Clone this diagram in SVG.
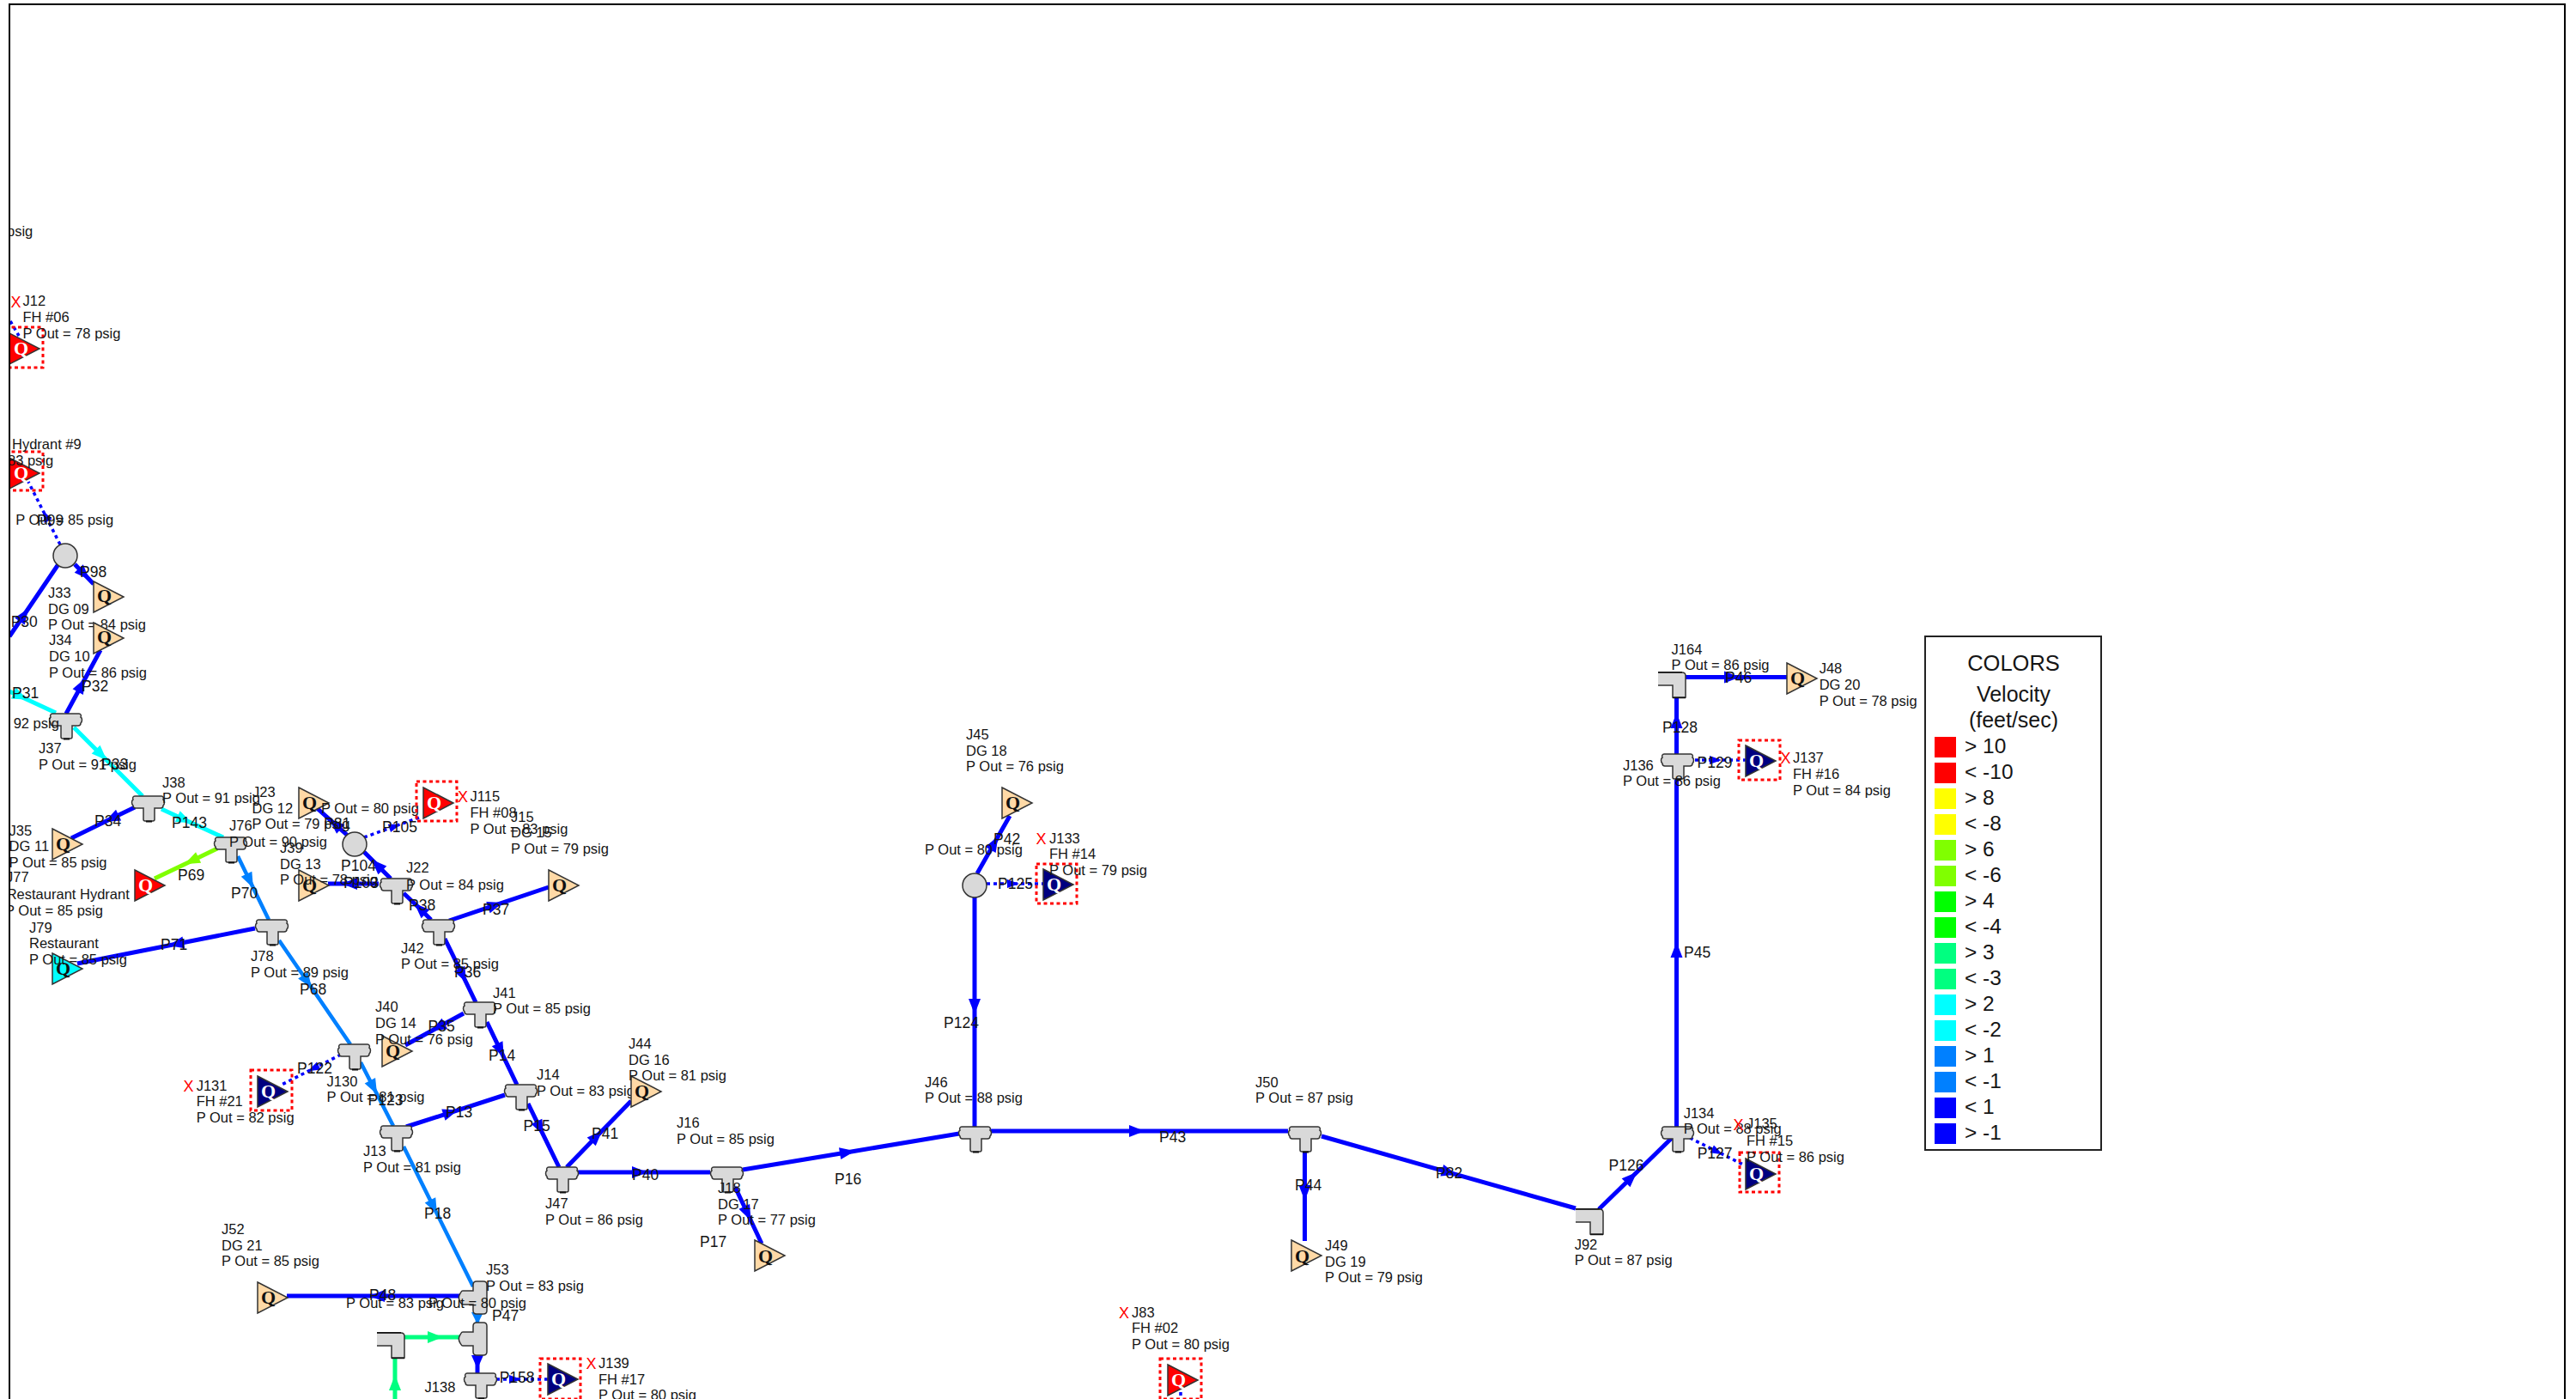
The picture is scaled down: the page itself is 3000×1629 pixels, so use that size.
<svg xmlns="http://www.w3.org/2000/svg" width="3000" height="1629" viewBox="0 0 3000 1629">
<style>
text{font-family:"Liberation Sans",Arial,sans-serif;font-size:16.5px;fill:#151515}
#pipe-labels text{font-size:17.5px}
.x{fill:#f00;font-size:18px}
.q{font-family:"Liberation Serif","Times New Roman",serif;font-weight:bold;font-size:22px;fill:#111}
.qw{font-family:"Liberation Serif","Times New Roman",serif;font-weight:bold;font-size:22px;fill:#fff}
.L{font-size:24.5px}
.H{font-size:25.5px;text-anchor:middle}
.V{font-size:25px;text-anchor:middle}
.p{fill:none;stroke-width:5}
.b{stroke:#00f;marker-mid:url(#mb)}
.a{stroke:#0080ff;stroke-width:4.5;marker-mid:url(#ma)}
.c{stroke:#0ff;marker-mid:url(#mc)}
.g{stroke:#80ff00;marker-mid:url(#mg)}
.s{stroke:#00ff80;marker-mid:url(#ms)}
.d{stroke:#00f;stroke-width:3.5;stroke-dasharray:4 4;marker-mid:url(#md)}
.fit{fill:#d9d9d9;stroke:#333;stroke-width:1.5}
.tan{fill:#ffd9a6}.red{fill:#f00}.nav{fill:#000080}.cy{fill:#0ff}
.tri{stroke:#333;stroke-width:1.5}
.sq{fill:none;stroke:#f00;stroke-width:3;stroke-dasharray:4 3.5}
</style>
<defs>
<clipPath id="clip"><rect x="12" y="0" width="2988" height="1629"/></clipPath>
<marker id="mb" markerUnits="userSpaceOnUse" markerWidth="20" markerHeight="16" viewBox="0 0 20 16" refX="10" refY="8" orient="auto"><path d="M1 1 19 8 1 15Z" fill="#00f"/></marker>
<marker id="ma" markerUnits="userSpaceOnUse" markerWidth="20" markerHeight="16" viewBox="0 0 20 16" refX="10" refY="8" orient="auto"><path d="M1 1 19 8 1 15Z" fill="#0080ff"/></marker>
<marker id="mc" markerUnits="userSpaceOnUse" markerWidth="20" markerHeight="16" viewBox="0 0 20 16" refX="10" refY="8" orient="auto"><path d="M1 1 19 8 1 15Z" fill="#0ff"/></marker>
<marker id="mg" markerUnits="userSpaceOnUse" markerWidth="20" markerHeight="16" viewBox="0 0 20 16" refX="10" refY="8" orient="auto"><path d="M1 1 19 8 1 15Z" fill="#80ff00"/></marker>
<marker id="ms" markerUnits="userSpaceOnUse" markerWidth="20" markerHeight="16" viewBox="0 0 20 16" refX="10" refY="8" orient="auto"><path d="M1 1 19 8 1 15Z" fill="#00ff80"/></marker>
<marker id="md" markerUnits="userSpaceOnUse" markerWidth="16" markerHeight="12" viewBox="0 0 16 12" refX="8" refY="6" orient="auto"><path d="M1 1 15 6 1 11Z" fill="#00f"/></marker>
<g id="T"><path class="fit" d="M4 0H35C37 0 38 2 37 4C39 5 39 9 37 11C37 13 36 14 34 14H27V27Q27 29 25 29H16Q14 29 14 27V14H5C3 14 2 13 2 11C0 9 0 5 2 4C1 2 2 0 4 0Z"/><path d="M17 29.5H24" stroke="#111" stroke-width="2"/></g>
<g id="TL"><path class="fit" d="M20 0H28Q32 0 32 4V34Q32 38 28 38H20Q16 38 16 34V27H4C2 27 2 25 1 24C-1 21 -1 17 1 14C2 13 2 11 4 11H16V4Q16 0 20 0Z"/></g>
<g id="E"><path class="fit" d="M0 1H28Q32 1 32 5V30H17V16H0"/><path d="M17 30.5H32M0 .8H28" stroke="#111" stroke-width="1.5" fill="none"/></g>
<polygon id="tri" points="0,0 35,18 0,36"/>
</defs>
<rect x="0" y="0" width="3000" height="1629" fill="#fff"/>
<g clip-path="url(#clip)">
<g id="connectors">
<path class="p d" d="M12 374L22 391"/>
<path id="P99" class="p d" d="M70 634L53 600.5L33 561"/>
<path id="P30" class="p b" d="M11 741L28 716L68 657"/>
<path id="P98" class="p b" d="M87 657L98 668.5L109 680"/>
<path id="P32" class="p b" d="M77 831L95 797.7L117 757"/>
<path id="P31" class="p c" d="M11 805L24 811L65 830"/>
<path id="P33" class="p c" d="M86 847L118 879L166 927"/>
<path id="P143" class="p c" d="M188 942L215 954.4L260 975"/>
<path id="P34" class="p b" d="M157 940L130 953.1L83 976"/>
<path id="P69" class="p g" d="M253 988L223 1002.4L180 1023"/>
<path id="P70" class="p a" d="M277 997L291 1025.8L313 1071"/>
<path id="P68" class="p a" d="M325 1095L358 1143L408 1216"/>
<path id="P71" class="p b" d="M297 1081L205 1099.2L90 1122"/>
<path id="P123" class="p a" d="M420 1237L435 1266.2L458 1311"/>
<path id="P122" class="p d" d="M397 1228L365 1244.2L328 1263"/>
<path id="P18" class="p a" d="M470 1335L505 1405.4L551 1498"/>
<path id="P13" class="p b" d="M473 1312L525 1295.3L588 1275"/>
<path id="P15" class="p b" d="M615 1285L629 1313.8L651 1359"/>
<path id="P14" class="p b" d="M567 1190L583 1223.4L602 1263"/>
<path id="P35" class="p b" d="M540 1180L510 1196.3L472 1217"/>
<path id="P36" class="p b" d="M518 1093L539 1136L554 1167"/>
<path id="P37" class="p b" d="M523 1072L577 1053.8L639 1033"/>
<path id="P38" class="p b" d="M502 1071L489 1058L470 1040"/>
<path id="P104" class="p b" d="M455 1023L439 1007L424 992"/>
<path id="P103" class="p b" d="M441 1029L407 1029L382 1029"/>
<path id="P81" class="p b" d="M405 973L390 959.6L368 940"/>
<path id="P105" class="p d" d="M424 975L460 962L491 951"/>
<path id="P41" class="p b" d="M660 1359L695 1323L735 1282"/>
<path id="P40" class="p b" d="M673 1365L745 1365L827 1365"/>
<path id="P16" class="p b" d="M865 1362L987 1341.7L1117 1320"/>
<path id="P17" class="p b" d="M856 1382L870.6 1413L887 1448"/>
<path id="P43" class="p b" d="M1154 1317L1324 1317L1500 1317"/>
<path id="P124" class="p b" d="M1135 1045L1135 1172L1135 1312"/>
<path id="P42" class="p b" d="M1138 1017L1158 981.7L1176 950"/>
<path id="P125" class="p d" d="M1149 1029L1180 1029L1215 1029"/>
<path id="P44" class="p b" d="M1519.5 1341L1519.5 1389L1519.5 1445"/>
<path id="P82" class="p b" d="M1539 1323L1688 1365.3L1835 1407"/>
<path id="P126" class="p b" d="M1862 1408L1900 1371L1947 1325"/>
<path id="P127" class="p d" d="M1968 1325L2000 1341L2030 1356"/>
<path id="P45" class="p b" d="M1952.5 1312L1952.5 1106L1952.5 908"/>
<path id="P128" class="p b" d="M1952.5 878L1952.5 839L1952.5 812"/>
<path id="P129" class="p d" d="M1974 885L1998 885L2033 885"/>
<path id="P46" class="p b" d="M1963 788.5L2017 788.5L2081 788.5"/>
<path id="P48" class="p b" d="M535 1509L439 1509L334 1509"/>
<path id="P47" class="p a" d="M556 1530L556 1540"/>
<polygon points="549,1528 563,1528 556,1542" fill="#0080ff"/>
<path class="p s" d="M471 1557L507 1557L535 1557"/>
<path class="p s" d="M460 1629L460 1610L460 1581"/>
<path class="p b" d="M556 1578L556 1599"/>
<polygon points="549,1578 563,1578 556,1594" fill="#00f"/>
<path id="P158" class="p d" d="M578 1606L600 1606L638 1606"/>
<path class="p d" d="M1375 1621L1375 1629"/>
</g>
<g id="J12"><rect class="sq" x="6" y="381" width="44" height="47"/><use href="#tri" class="tri red" x="11" y="388"/><text class="qw" x="16" y="413">Q</text><text class="x" x="12.5" y="358">X</text><text x="26.5" y="356">J12</text><text x="26.5" y="375">FH #06</text><text x="26.5" y="393.5">P Out = 78 psig</text></g>
<g id="J9"><rect class="sq" x="6" y="526" width="44" height="45"/><use href="#tri" class="tri red" x="11" y="533"/><text class="qw" x="16" y="558">Q</text><text x="14" y="522.5">Hydrant #9</text><text x="9" y="542">83 psig</text></g>
<g id="top-note"><text x="8" y="275">psig</text><text x="2" y="642.5">g</text></g>
<g id="J32"><circle class="fit" cx="76" cy="647" r="14"/><text x="18.3" y="610.5">P Out = 85 psig</text></g>
<g id="J33"><use href="#tri" class="tri tan" x="109" y="677"/><text class="q" x="113" y="701">Q</text><text x="56" y="695.5">J33</text><text x="56" y="714.5">DG 09</text><text x="56" y="733">P Out = 84 psig</text></g>
<g id="J34"><use href="#tri" class="tri tan" x="109" y="725"/><text class="q" x="113" y="749">Q</text><text x="57" y="751">J34</text><text x="57" y="770">DG 10</text><text x="57" y="789">P Out = 86 psig</text></g>
<g id="J37"><use href="#T" x="57" y="831"/><text x="15.7" y="847.7">92 psig</text><text x="45" y="877">J37</text><text x="45" y="895.7">P Out = 91 psig</text></g>
<g id="J38"><use href="#T" x="153" y="927"/><text x="189" y="916.7">J38</text><text x="189" y="935">P Out = 91 psig</text></g>
<g id="J76"><use href="#T" x="249" y="975"/><text x="267" y="966.7">J76</text><text x="267" y="986">P Out = 90 psig</text></g>
<g id="J78"><use href="#T" x="297" y="1071"/><text x="292" y="1119">J78</text><text x="292" y="1137.7">P Out = 89 psig</text></g>
<g id="J22"><use href="#T" x="442" y="1023"/><text x="473" y="1016">J22</text><text x="473" y="1035.5">P Out = 84 psig</text></g>
<g id="J42"><use href="#T" x="491" y="1071"/><text x="467" y="1110">J42</text><text x="467" y="1128">P Out = 85 psig</text></g>
<g id="J41"><use href="#T" x="539" y="1167"/><text x="574" y="1161.7">J41</text><text x="574" y="1180">P Out = 85 psig</text></g>
<g id="J130"><use href="#T" x="393" y="1216"/><text x="380.6" y="1265">J130</text><text x="380.6" y="1282.7">P Out = 81 psig</text></g>
<g id="J14"><use href="#T" x="587" y="1263"/><text x="625" y="1257">J14</text><text x="625" y="1276">P Out = 83 psig</text></g>
<g id="J13"><use href="#T" x="442" y="1311"/><text x="423" y="1345.7">J13</text><text x="423" y="1365">P Out = 81 psig</text></g>
<g id="J47"><use href="#T" x="635" y="1359"/><text x="635" y="1407">J47</text><text x="635" y="1426">P Out = 86 psig</text></g>
<g id="J16"><use href="#T" x="827" y="1359"/><text x="788" y="1313">J16</text><text x="788" y="1331.7">P Out = 85 psig</text></g>
<g id="J53"><use href="#TL" x="535" y="1492"/><text x="566" y="1484">J53</text><text x="566" y="1503">P Out = 83 psig</text><text x="499" y="1523">P Out = 80 psig</text></g>
<g id="J-tee"><use href="#TL" x="535" y="1540"/></g>
<g id="J-elbow"><use href="#E" x="439" y="1551"/></g>
<g id="J138"><use href="#T" x="540" y="1599"/><text x="494.6" y="1621">J138</text></g>
<g id="J46"><use href="#T" x="1116" y="1312"/><text x="1077" y="1265.7">J46</text><text x="1077" y="1284">P Out = 88 psig</text></g>
<g id="J50"><use href="#T" x="1500" y="1312"/><text x="1462" y="1265.7">J50</text><text x="1462" y="1284">P Out = 87 psig</text></g>
<g id="J92"><use href="#E" x="1835" y="1407"/><text x="1833.7" y="1455">J92</text><text x="1833.7" y="1473">P Out = 87 psig</text></g>
<g id="J134"><use href="#T" x="1934" y="1312"/><text x="1960.7" y="1301.7">J134</text><text x="1960.7" y="1320">P Out = 88 psig</text></g>
<g id="J136"><use href="#T" x="1934" y="878"/><text x="1890" y="896.7">J136</text><text x="1890" y="915">P Out = 86 psig</text></g>
<g id="J164"><use href="#E" x="1931" y="782"/><text x="1946.6" y="761.7">J164</text><text x="1946.6" y="780">P Out = 86 psig</text></g>
<g id="J35"><use href="#tri" class="tri tan" x="61" y="965"/><text class="q" x="65" y="990">Q</text><text x="10.6" y="972.7">J35</text><text x="10.6" y="991">DG 11</text><text x="10.6" y="1010">P Out = 85 psig</text></g>
<g id="J77"><use href="#tri" class="tri red" x="157" y="1013"/><text class="qw" x="161" y="1038">Q</text><text x="7" y="1027">J77</text><text x="7.7" y="1046.7">Restaurant Hydrant</text><text x="6" y="1066">P Out = 85 psig</text></g>
<g id="J79"><use href="#tri" class="tri cy" x="61" y="1110"/><text class="q" x="65" y="1135">Q</text><text x="34" y="1085.7">J79</text><text x="34" y="1104">Restaurant</text><text x="34" y="1122.7">P Out = 85 psig</text></g>
<g id="J23"><use href="#tri" class="tri tan" x="348" y="917"/><text class="q" x="352" y="942">Q</text><text x="294" y="928">J23</text><text x="293.5" y="946.7">DG 12</text><text x="293.5" y="965">P Out = 79 psig</text></g>
<g id="J39"><use href="#tri" class="tri tan" x="348" y="1013"/><text class="q" x="352" y="1038">Q</text><text x="326" y="992.7">J39</text><text x="326" y="1011.7">DG 13</text><text x="326" y="1030">P Out = 78 psig</text></g>
<g id="J21"><circle class="fit" cx="413" cy="983" r="14"/><text x="374" y="946.7">P Out = 80 psig</text></g>
<g id="J115"><rect class="sq" x="485" y="910" width="47" height="46"/><use href="#tri" class="tri red" x="493" y="917"/><text class="qw" x="497" y="942">Q</text><text class="x" x="533" y="934">X</text><text x="547.5" y="933">J115</text><text x="547.5" y="951.7">FH #08</text><text x="547.5" y="970.7">P Out = 83 psig</text></g>
<g id="J15"><use href="#tri" class="tri tan" x="639" y="1013"/><text class="q" x="643" y="1038">Q</text><text x="595" y="956.7">J15</text><text x="595" y="975">DG 15</text><text x="595" y="994">P Out = 79 psig</text></g>
<g id="J40"><use href="#tri" class="tri tan" x="445" y="1206"/><text class="q" x="449" y="1231">Q</text><text x="437" y="1178">J40</text><text x="437" y="1197">DG 14</text><text x="437" y="1215.7">P Out = 76 psig</text></g>
<g id="J131"><rect class="sq" x="292" y="1246" width="48" height="47"/><use href="#tri" class="tri nav" x="300" y="1253"/><text class="qw" x="304" y="1278">Q</text><text class="x" x="213.5" y="1271">X</text><text x="228.7" y="1270">J131</text><text x="228.7" y="1288">FH #21</text><text x="228.7" y="1306.7">P Out = 82 psig</text></g>
<g id="J44"><use href="#tri" class="tri tan" x="735" y="1253"/><text class="q" x="739" y="1278">Q</text><text x="732" y="1220.7">J44</text><text x="732" y="1239.7">DG 16</text><text x="732" y="1257.7">P Out = 81 psig</text></g>
<g id="J52"><use href="#tri" class="tri tan" x="300" y="1493"/><text class="q" x="304" y="1518">Q</text><text x="258" y="1437">J52</text><text x="258" y="1456">DG 21</text><text x="258" y="1474">P Out = 85 psig</text><text x="403" y="1523">P Out = 83 psig</text></g>
<g id="J139"><rect class="sq" x="629" y="1582" width="47" height="47"/><use href="#tri" class="tri nav" x="638" y="1588"/><text class="qw" x="642" y="1613">Q</text><text class="x" x="682.5" y="1594">X</text><text x="697" y="1593">J139</text><text x="697" y="1611.7">FH #17</text><text x="697" y="1630">P Out = 80 psig</text></g>
<g id="J18"><use href="#tri" class="tri tan" x="879" y="1444"/><text class="q" x="883" y="1470">Q</text><text x="836" y="1389.3">J18</text><text x="836" y="1408">DG 17</text><text x="836" y="1426">P Out = 77 psig</text></g>
<g id="J83"><rect class="sq" x="1351" y="1582" width="48" height="47"/><use href="#tri" class="tri red" x="1360" y="1589"/><text class="qw" x="1364" y="1614">Q</text><text class="x" x="1303" y="1535">X</text><text x="1318" y="1534">J83</text><text x="1318" y="1552">FH #02</text><text x="1318" y="1570.7">P Out = 80 psig</text></g>
<g id="J45"><use href="#tri" class="tri tan" x="1167" y="917"/><text class="q" x="1171" y="942">Q</text><text x="1125" y="860.7">J45</text><text x="1125" y="880">DG 18</text><text x="1125" y="898">P Out = 76 psig</text></g>
<g id="J43"><circle class="fit" cx="1135" cy="1031" r="14"/><text x="1077" y="995">P Out = 80 psig</text></g>
<g id="J133"><rect class="sq" x="1207" y="1006" width="47" height="46"/><use href="#tri" class="tri nav" x="1215" y="1012"/><text class="qw" x="1219" y="1037">Q</text><text class="x" x="1206.5" y="982.7">X</text><text x="1222" y="981.7">J133</text><text x="1222" y="1000">FH #14</text><text x="1222" y="1019">P Out = 79 psig</text></g>
<g id="J49"><use href="#tri" class="tri tan" x="1504" y="1444"/><text class="q" x="1508" y="1470">Q</text><text x="1543" y="1455.7">J49</text><text x="1543" y="1474.7">DG 19</text><text x="1543" y="1493">P Out = 79 psig</text></g>
<g id="J135"><rect class="sq" x="2026" y="1342" width="46" height="46"/><use href="#tri" class="tri nav" x="2033" y="1349"/><text class="qw" x="2037" y="1374">Q</text><text class="x" x="2018.5" y="1316">X</text><text x="2034" y="1314">J135</text><text x="2034" y="1334">FH #15</text><text x="2034" y="1353">P Out = 86 psig</text></g>
<g id="J137"><rect class="sq" x="2025" y="862" width="48" height="46"/><use href="#tri" class="tri nav" x="2033" y="868"/><text class="qw" x="2037" y="893">Q</text><text class="x" x="2073.5" y="889">X</text><text x="2088" y="888">J137</text><text x="2088" y="907">FH #16</text><text x="2088" y="925.7">P Out = 84 psig</text></g>
<g id="J48"><use href="#tri" class="tri tan" x="2081" y="772"/><text class="q" x="2085" y="797">Q</text><text x="2118.7" y="784.3">J48</text><text x="2118.7" y="803">DG 20</text><text x="2118.7" y="821.7">P Out = 78 psig</text></g>
<g id="pipe-labels">
<text x="43" y="612">P99</text><text x="93" y="671.7">P98</text><text x="12.7" y="730">P30</text><text x="95" y="804.5">P32</text><text x="14" y="813">P31</text><text x="118" y="895.7">P33</text><text x="110" y="962">P34</text><text x="200" y="964">P143</text><text x="207" y="1025">P69</text><text x="269" y="1046">P70</text><text x="187" y="1105.7">P71</text><text x="349" y="1157.7">P68</text><text x="377" y="965">P81</text><text x="397" y="1014">P104</text><text x="400" y="1034">P103</text><text x="476" y="1060">P38</text><text x="529" y="1138">P36</text><text x="445" y="969">P105</text><text x="562" y="1065">P37</text><text x="498.5" y="1200.7">P35</text><text x="569" y="1235">P14</text><text x="346" y="1250">P122</text><text x="428.5" y="1286.7">P123</text><text x="519" y="1300.7">P13</text><text x="609.5" y="1316.7">P15</text><text x="689" y="1325.7">P41</text><text x="736" y="1374">P40</text><text x="815" y="1451.7">P17</text><text x="494" y="1419">P18</text><text x="430" y="1514">P48</text><text x="573" y="1538">P47</text><text x="581.7" y="1610">P158</text><text x="972" y="1379">P16</text><text x="1350" y="1330">P43</text><text x="1157" y="983">P42</text><text x="1162" y="1035">P125</text><text x="1099" y="1197">P124</text><text x="1672" y="1372">P82</text><text x="1508" y="1386">P44</text><text x="1873.5" y="1363">P126</text><text x="1976.7" y="1349">P127</text><text x="1961" y="1115">P45</text><text x="2009" y="795">P46</text><text x="1936" y="852.7">P128</text><text x="1976.5" y="894">P129</text>
</g>
</g>
<path id="border" d="M11 1629V5H2987V1629" fill="none" stroke="#000" stroke-width="2"/>
<g id="legend">
<rect x="2242" y="741" width="205" height="598" fill="#fff" stroke="#222" stroke-width="2"/>
<text class="H" x="2345" y="781">COLORS</text><text class="V" x="2345" y="817">Velocity</text><text class="V" x="2345" y="847">(feet/sec)</text>
<rect x="2253" y="858" width="25" height="24" fill="#f00"/><text class="L" x="2288" y="876.5">&gt; 10</text>
<rect x="2253" y="888" width="25" height="24" fill="#f00"/><text class="L" x="2288" y="906.5">&lt; -10</text>
<rect x="2253" y="918" width="25" height="24" fill="#ff0"/><text class="L" x="2288" y="936.5">&gt; 8</text>
<rect x="2253" y="948" width="25" height="24" fill="#ff0"/><text class="L" x="2288" y="966.5">&lt; -8</text>
<rect x="2253" y="978" width="25" height="24" fill="#80ff00"/><text class="L" x="2288" y="996.5">&gt; 6</text>
<rect x="2253" y="1008" width="25" height="24" fill="#80ff00"/><text class="L" x="2288" y="1026.5">&lt; -6</text>
<rect x="2253" y="1038" width="25" height="24" fill="#0f0"/><text class="L" x="2288" y="1056.5">&gt; 4</text>
<rect x="2253" y="1068" width="25" height="24" fill="#0f0"/><text class="L" x="2288" y="1086.5">&lt; -4</text>
<rect x="2253" y="1098" width="25" height="24" fill="#00ff80"/><text class="L" x="2288" y="1116.5">&gt; 3</text>
<rect x="2253" y="1128" width="25" height="24" fill="#00ff80"/><text class="L" x="2288" y="1146.5">&lt; -3</text>
<rect x="2253" y="1158" width="25" height="24" fill="#0ff"/><text class="L" x="2288" y="1176.5">&gt; 2</text>
<rect x="2253" y="1188" width="25" height="24" fill="#0ff"/><text class="L" x="2288" y="1206.5">&lt; -2</text>
<rect x="2253" y="1218" width="25" height="24" fill="#0080ff"/><text class="L" x="2288" y="1236.5">&gt; 1</text>
<rect x="2253" y="1248" width="25" height="24" fill="#0080ff"/><text class="L" x="2288" y="1266.5">&lt; -1</text>
<rect x="2253" y="1278" width="25" height="24" fill="#00f"/><text class="L" x="2288" y="1296.5">&lt; 1</text>
<rect x="2253" y="1308" width="25" height="24" fill="#00f"/><text class="L" x="2288" y="1326.5">&gt; -1</text>
</g>
</svg>
